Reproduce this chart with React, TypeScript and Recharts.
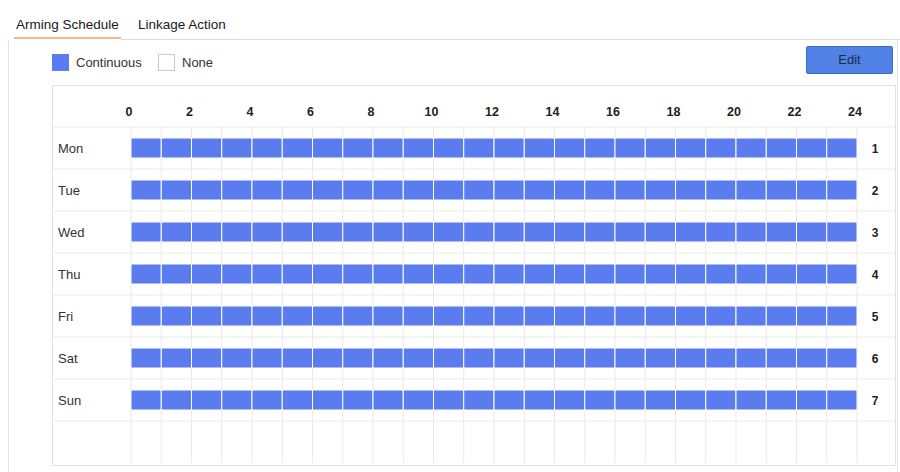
import { Bar, BarChart, CartesianGrid, XAxis, YAxis } from "recharts";

// schedule: one row per weekday, armed from start hour to end hour
const days = ["Mon", "Tue", "Wed", "Thu", "Fri", "Sat", "Sun"];
const dayNumbers = ["1", "2", "3", "4", "5", "6", "7"];
const armStart = [0, 0, 0, 0, 0, 0, 0];
const armEnd = [24, 24, 24, 24, 24, 24, 24];
const hourTicks = [0, 2, 4, 6, 8, 10, 12, 14, 16, 18, 20, 22, 24];
const hours = Array.from({ length: 24 }, (_, i) => i);

const BLUE = "#5b7cef";
const GRID = "#e9e9e9";

const rows: any[] = days.map((day, i) => {
	const r: any = { day, num: dayNumbers[i] };
	hours.forEach((h) => {
		r[`h${h}`] = h >= armStart[i] && h < armEnd[i] ? 1 : 0;
	});
	return r;
});
// empty row at the bottom of the table
rows.push({ day: "", num: "" });

const DayTick = ({ y, payload }: any) => (
	<text x={6} y={y} dy={4.5} fontSize={13} fill="#333" textAnchor="start">
		{payload.value}
	</text>
);

const NumTick = ({ x, y, payload }: any) => (
	<text x={x + 18} y={y} dy={4.5} fontSize={12} fontWeight="bold" fill="#222" textAnchor="middle">
		{payload.value}
	</text>
);

const HourTick = ({ x, y, payload }: any) => (
	<text x={x - 2} y={y} fontSize={12.5} fontWeight="bold" fill="#222" textAnchor="middle">
		{payload.value}
	</text>
);

export default function App() {
	return (
		<div
			style={{
				position: "absolute",
				left: 0,
				top: 0,
				width: 900,
				height: 472,
				background: "#fff",
				fontFamily: "'Liberation Sans', Arial, sans-serif",
				overflow: "hidden",
			}}
		>
			{/* tabs */}
			<div style={{ position: "absolute", left: 16, top: 17, fontSize: 13.5, lineHeight: "16px", color: "#1a1a1a" }}>
				Arming Schedule
			</div>
			<div style={{ position: "absolute", left: 138, top: 17, fontSize: 13.5, lineHeight: "16px", color: "#1a1a1a" }}>
				Linkage Action
			</div>
			<div style={{ position: "absolute", left: 14, top: 37, width: 107, height: 2, background: "#f0b88c" }} />
			<div style={{ position: "absolute", left: 121, top: 39, width: 779, height: 1, background: "#dcdcdc" }} />
			<div style={{ position: "absolute", left: 8, top: 40, width: 1, height: 432, background: "#e4e4e4" }} />
			<div style={{ position: "absolute", left: 897, top: 40, width: 1, height: 432, background: "#e4e4e4" }} />

			{/* legend */}
			<div style={{ position: "absolute", left: 52, top: 54, width: 17, height: 17, background: BLUE }} />
			<div style={{ position: "absolute", left: 76, top: 54, fontSize: 13, lineHeight: "17px", color: "#333" }}>
				Continuous
			</div>
			<div
				style={{
					position: "absolute",
					left: 158,
					top: 54,
					width: 17,
					height: 17,
					boxSizing: "border-box",
					border: "1px solid #c8c8c8",
					background: "#fff",
				}}
			/>
			<div style={{ position: "absolute", left: 182, top: 54, fontSize: 13, lineHeight: "17px", color: "#333" }}>
				None
			</div>

			{/* edit button */}
			<div
				style={{
					position: "absolute",
					left: 806,
					top: 46,
					width: 87,
					height: 28,
					boxSizing: "border-box",
					background: "#4f82e4",
					border: "1px solid #3f6cc4",
					borderRadius: 2,
					color: "#1d2a4a",
					fontSize: 13,
					lineHeight: "26px",
					textAlign: "center",
				}}
			>
				Edit
			</div>

			{/* schedule table */}
			<div
				style={{
					position: "absolute",
					left: 52,
					top: 85,
					width: 844,
					height: 381,
					boxSizing: "border-box",
					border: "1px solid #e2e2e2",
				}}
			/>
			<div style={{ position: "absolute", left: 52, top: 85 }}>
				<BarChart
					layout="vertical"
					width={843}
					height={380}
					data={rows}
					margin={{ top: 0, right: 0, bottom: 2, left: 0 }}
					barSize={20}
				>
					<CartesianGrid
						vertical={false}
						x={0}
						width={843}
						stroke={GRID}
						horizontalCoordinatesGenerator={({ offset }: any) =>
							rows.map((_, i) => offset.top + (i * offset.height) / rows.length)
						}
					/>
					<CartesianGrid
						horizontal={false}
						stroke={GRID}
						verticalCoordinatesGenerator={({ offset }: any) =>
							[...hours, 24].map((h) => offset.left + (h * offset.width) / 24)
						}
					/>
					<XAxis
						type="number"
						orientation="top"
						domain={[0, 24]}
						ticks={hourTicks}
						interval={0}
						height={42}
						axisLine={false}
						tickLine={false}
						tickSize={0}
						tickMargin={11}
						tick={<HourTick />}
					/>
					<YAxis
						type="category"
						dataKey="day"
						width={79}
						axisLine={false}
						tickLine={false}
						tickSize={0}
						tick={<DayTick />}
					/>
					<YAxis
						yAxisId="right"
						type="category"
						dataKey="num"
						orientation="right"
						width={38}
						axisLine={false}
						tickLine={false}
						tickSize={0}
						tickMargin={0}
						tick={<NumTick />}
					/>
					{hours.map((h) => (
						<Bar
							key={h}
							dataKey={`h${h}`}
							stackId="day"
							fill={BLUE}
							stroke="#fff"
							strokeWidth={1}
							isAnimationActive={false}
						/>
					))}
				</BarChart>
			</div>
		</div>
	);
}
